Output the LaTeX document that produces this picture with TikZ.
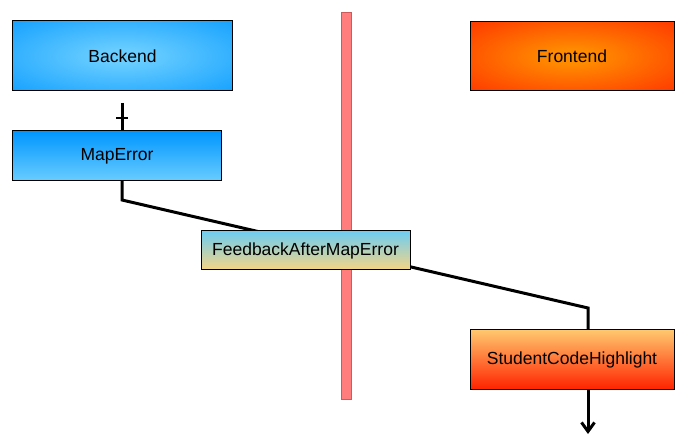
\documentclass[tikz,border=0pt]{standalone}
\usepackage{fontspec}
\setmainfont{Liberation Sans}
\usetikzlibrary{arrows.meta,calc}
\definecolor{blueA}{RGB}{0,150,255}
\definecolor{blueB}{RGB}{105,205,255}
\definecolor{orangeA}{RGB}{255,140,0}
\definecolor{redA}{RGB}{255,35,0}
\definecolor{fbtop}{RGB}{110,205,242}
\definecolor{fbbot}{RGB}{246,212,132}
\definecolor{hltop}{RGB}{255,200,110}
\definecolor{barfill}{RGB}{255,125,125}
\definecolor{barline}{RGB}{205,90,90}
\pgfdeclareradialshading{bkshade}{\pgfpoint{0bp}{0bp}}{color(0bp)=(blueB); color(5bp)=(blueB); color(44bp)=(blueA); color(100bp)=(blueA)}
\pgfdeclareradialshading{frshade}{\pgfpoint{0bp}{0bp}}{color(0bp)=(orangeA); color(5bp)=(orangeA); color(44bp)=(redA); color(100bp)=(redA)}
\tikzset{
  box/.style={draw=black, line width=1bp, inner sep=0pt, outer sep=0pt,
    font=\fontsize{17.5bp}{20bp}\selectfont, text=black},
  conn/.style={draw=black, line width=3bp, line join=miter},
}
\begin{document}
\begin{tikzpicture}[x=1bp,y=-1bp]
\useasboundingbox (0,0) rectangle (677,436);
% separator bar
\path[fill=barfill, draw=barline, line width=0.8bp] (341,12) rectangle (351,399);
% coordinates
\coordinate (bendA) at (122,200);
\coordinate (bendB) at (588,308);
% boxes
\node[box, shading=bkshade, minimum width=219bp, minimum height=70bp] (backend) at (122.5,56) {Backend};
\node[box, shading=frshade, minimum width=204bp, minimum height=69bp] (frontend) at (572,56.5) {Frontend};
\node[box, top color=blueA, bottom color=blueB, minimum width=208bp, minimum height=50bp] (maperror) at (117,156) {MapError};
\node[box, top color=hltop, bottom color=redA, minimum width=204bp, minimum height=59bp] (highlight) at (572,359.5) {StudentCodeHighlight};
% connectors
\coordinate (tstart) at ($(backend.south -| bendA)+(0,12)$);
\draw[conn] (tstart) -- (maperror.north -| bendA);
\draw[line width=2.5bp] ($(tstart)+(-6,15)$) -- ++(12,0);
\draw[conn] (maperror.south -| bendA) -- (bendA) -- (bendB) -- (highlight.north -| bendB);
\coordinate (arrowend) at ($(highlight.south -| bendB)+(0,45)$);
\draw[conn, -{Straight Barb[length=9bp,width=13bp,line width=3bp]}] (highlight.south -| bendB) -- (arrowend);
% feedback box on top
\node[box, top color=fbtop, bottom color=fbbot, minimum width=209bp, minimum height=39bp] (feedback) at (305.5,250.5) {FeedbackAfterMapError};
\end{tikzpicture}
\end{document}
